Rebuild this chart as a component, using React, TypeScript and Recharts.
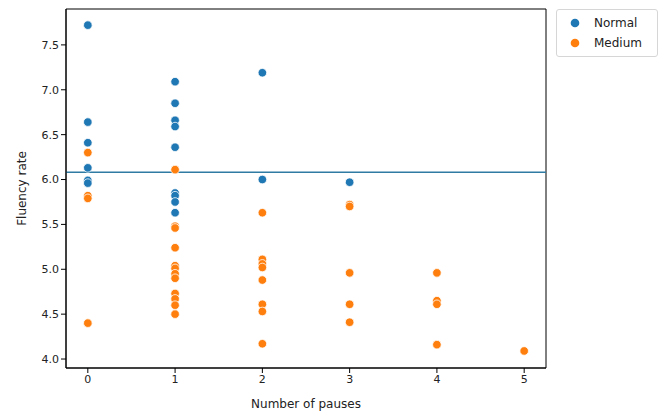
import {
  ScatterChart,
  Scatter,
  XAxis,
  YAxis,
  ReferenceLine,
  ReferenceArea,
} from "recharts";

const xTicks = [0, 1, 2, 3, 4, 5];
const yTicks = [4.0, 4.5, 5.0, 5.5, 6.0, 6.5, 7.0, 7.5];

const normalPauses = [0, 0, 0, 0, 0, 0, 1, 1, 1, 1, 1, 1, 1, 1, 1, 2, 2, 3];
const normalRates = [
  7.72, 6.64, 6.41, 6.13, 5.99, 5.96, 7.09, 6.85, 6.66, 6.59, 6.36, 5.85, 5.82,
  5.75, 5.63, 7.19, 6.0, 5.97,
];

const mediumPauses = [
  0, 0, 0, 0, 1, 1, 1, 1, 1, 1, 1, 1, 1, 1, 1, 1, 2, 2, 2, 2, 2, 2, 2, 2, 3, 3,
  3, 3, 3, 4, 4, 4, 4, 5,
];
const mediumRates = [
  6.3, 5.82, 5.79, 4.4, 6.11, 5.48, 5.46, 5.24, 5.04, 5.01, 4.95, 4.9, 4.73,
  4.67, 4.6, 4.5, 5.63, 5.11, 5.06, 5.02, 4.88, 4.61, 4.53, 4.17, 5.72, 5.7,
  4.96, 4.61, 4.41, 4.96, 4.65, 4.61, 4.16, 4.09,
];

const meanRate = 6.08;

const BLUE = "#1f77b4";
const ORANGE = "#ff7f0e";
const FONT = "DejaVu Sans, sans-serif";

const normalData = normalPauses.map((x, i) => ({ x, y: normalRates[i] }));
const mediumData = mediumPauses.map((x, i) => ({ x, y: mediumRates[i] }));

function Dot(props: any) {
  const { cx, cy, fill } = props;
  return <circle cx={cx} cy={cy} r={4.3} fill={fill} stroke="#fff" strokeWidth={0.8} />;
}

// legend drawn as plain html next to the axes, so it doesn't eat plot width
function LegendBox() {
  const items = [
    { name: "Normal", color: BLUE },
    { name: "Medium", color: ORANGE },
  ];
  return (
    <div
      style={{
        position: "absolute",
        left: 556,
        top: 9,
        width: 102,
        boxSizing: "border-box",
        border: "1px solid #d6d6d6",
        borderRadius: 3,
        background: "#fff",
        padding: "3px 6px 3px 13px",
        fontFamily: FONT,
        fontSize: 12,
        color: "#222",
      }}
    >
      {items.map((it) => (
        <div key={it.name} style={{ display: "flex", alignItems: "center", height: 20 }}>
          <svg width={10} height={10} style={{ marginRight: 14 }}>
            <circle cx={5} cy={5} r={4.3} fill={it.color} />
          </svg>
          <span>{it.name}</span>
        </div>
      ))}
    </div>
  );
}

export default function App() {
  return (
    <div style={{ position: "absolute", left: 0, top: 0, width: 667, height: 414, background: "#fff" }}>
      <ScatterChart
        width={667}
        height={414}
        margin={{ top: 9, right: 121, bottom: 6, left: 26 }}
      >
        <XAxis
          type="number"
          dataKey="x"
          domain={[-0.25, 5.25]}
          ticks={xTicks}
          height={40}
          tickSize={5}
          axisLine={{ stroke: "#000" }}
          tickLine={{ stroke: "#000" }}
          tick={{ fill: "#222", fontSize: 11, fontFamily: FONT }}
          label={{
            value: "Number of pauses",
            position: "insideBottom",
            offset: 0,
            style: { fill: "#222", fontSize: 12, fontFamily: FONT },
          }}
        />
        <YAxis
          type="number"
          dataKey="y"
          domain={[3.9, 7.9]}
          ticks={yTicks}
          width={40}
          tickSize={5}
          tickFormatter={(v: number) => v.toFixed(1)}
          axisLine={{ stroke: "#000" }}
          tickLine={{ stroke: "#000" }}
          tick={{ fill: "#222", fontSize: 11, fontFamily: FONT }}
          label={{
            value: "Fluency rate",
            angle: -90,
            position: "insideLeft",
            offset: -4,
            style: { textAnchor: "middle", fill: "#222", fontSize: 12, fontFamily: FONT },
          }}
        />
        <ReferenceArea
          x1={-0.25}
          x2={5.25}
          y1={3.9}
          y2={7.9}
          fill="none"
          stroke="#000"
          strokeWidth={1}
          fillOpacity={0}
        />
        <Scatter
          name="Normal"
          data={normalData}
          fill={BLUE}
          shape={<Dot />}
          isAnimationActive={false}
        />
        <Scatter
          name="Medium"
          data={mediumData}
          fill={ORANGE}
          shape={<Dot />}
          isAnimationActive={false}
        />
        <ReferenceLine y={meanRate} stroke="#2f7ba3" strokeWidth={1.5} />
      </ScatterChart>
      <LegendBox />
    </div>
  );
}
